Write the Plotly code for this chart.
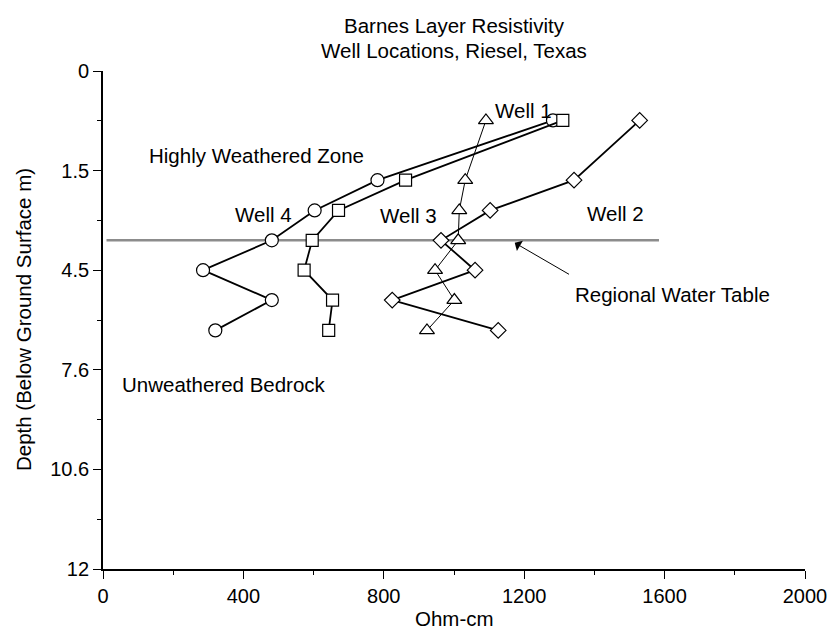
import plotly.graph_objects as go

# Depth levels (axis units; axis labelled with its own tick text)
depth = [1.19, 2.63, 3.36, 4.08, 4.80, 5.52, 6.25]

well4 = [1282, 782, 603, 481, 285, 481, 320]     # circles
well3 = [1310, 862, 671, 596, 573, 654, 643]     # squares
well1 = [1091, 1032, 1015, 1012, 946, 1001, 923]  # triangles
well2 = [1529, 1342, 1103, 963, 1060, 824, 1126]  # diamonds

water_table_depth = 4.08
water_table_x = [10, 1584]

x_ticks = [0, 400, 800, 1200, 1600, 2000]
x_minor = [200, 600, 1000, 1400, 1800]
y_tickvals = [0, 2.4, 4.8, 7.2, 9.6, 12]
y_ticktext = ["0", "1.5", "4.5", "7.6", "10.6", "12"]
y_minor = [1.2, 3.6, 6.0, 8.4, 10.8]

FONT = "Liberation Sans, Arial, sans-serif"

fig = go.Figure()

fig.add_trace(go.Scatter(
    x=water_table_x, y=[water_table_depth] * 2, mode="lines",
    line=dict(color="#8c8c8c", width=2.5), showlegend=False, hoverinfo="skip"))

def well_trace(xs, symbol, size, lw):
    return go.Scatter(
        x=xs, y=depth, mode="lines+markers",
        line=dict(color="black", width=lw),
        marker=dict(symbol=symbol, size=size, color="white",
                    line=dict(color="black", width=1.2)),
        showlegend=False)

fig.add_trace(well_trace(well1, "triangle-up", 13, 1))
fig.add_trace(well_trace(well2, "diamond", 12, 1.8))
fig.add_trace(well_trace(well4, "circle", 13, 1.8))
fig.add_trace(well_trace(well3, "square", 12, 1.8))

ann_font = dict(family=FONT, size=20.5, color="black")
labels = [
    ("Highly Weathered Zone", 436, 2.03, "center"),
    ("Well 4", 458, 3.45, "center"),
    ("Well 3", 869, 3.48, "center"),
    ("Well 2", 1460, 3.43, "center"),
    ("Well 1", 1197, 0.95, "center"),
    ("Regional Water Table", 1623, 5.38, "center"),
    ("Unweathered Bedrock", 48, 7.55, "left"),
]
for txt, x, y, anc in labels:
    fig.add_annotation(x=x, y=y, xref="x", yref="y", text=txt, showarrow=False,
                       xanchor=anc, yanchor="middle", font=ann_font)

fig.add_annotation(x=1173, y=4.14, ax=1332, ay=4.92, xref="x", yref="y",
                   axref="x", ayref="y", text="", showarrow=True,
                   arrowhead=1, arrowsize=2, arrowwidth=1, arrowcolor="black")

# Titles
fig.add_annotation(x=0.5, y=(568.7 - 25) / 498, xref="paper", yref="paper",
                   text="Barnes Layer Resistivity", showarrow=False,
                   yanchor="middle", font=ann_font)
fig.add_annotation(x=0.5, y=(568.7 - 50) / 498, xref="paper", yref="paper",
                   text="Well Locations, Riesel, Texas", showarrow=False,
                   yanchor="middle", font=ann_font)
fig.add_annotation(x=(22 - 103) / 711, y=0.5, xref="paper", yref="paper",
                   text="Depth (Below Ground Surface m)", showarrow=False,
                   textangle=-90, xanchor="center", yanchor="middle", font=ann_font)
fig.add_annotation(x=0.5, y=(568.7 - 618) / 498, xref="paper", yref="paper",
                   text="Ohm-cm", showarrow=False, yanchor="middle", font=ann_font)

axis_common = dict(showgrid=False, zeroline=False, showline=True,
                   linecolor="black", linewidth=1.8, ticks="outside",
                   tickcolor="black", tickwidth=1.2, ticklen=8,
                   tickfont=dict(family=FONT, size=20, color="black"))

fig.update_xaxes(range=[0, 2000], tickmode="array", tickvals=x_ticks,
                 ticktext=[str(v) for v in x_ticks],
                 minor=dict(tickmode="array", tickvals=x_minor, ticks="outside",
                            ticklen=4, tickcolor="black", tickwidth=1.2),
                 **axis_common)
fig.update_yaxes(range=[12, 0], tickmode="array", tickvals=y_tickvals,
                 ticktext=y_ticktext,
                 minor=dict(tickmode="array", tickvals=y_minor, ticks="outside",
                            ticklen=4, tickcolor="black", tickwidth=1.2),
                 **axis_common)

fig.update_layout(width=839, height=632, autosize=False,
                  margin=dict(l=103, r=25, t=70.7, b=63.3),
                  paper_bgcolor="white", plot_bgcolor="white",
                  font=dict(family=FONT, color="black"))

fig.write_html("out.html")
